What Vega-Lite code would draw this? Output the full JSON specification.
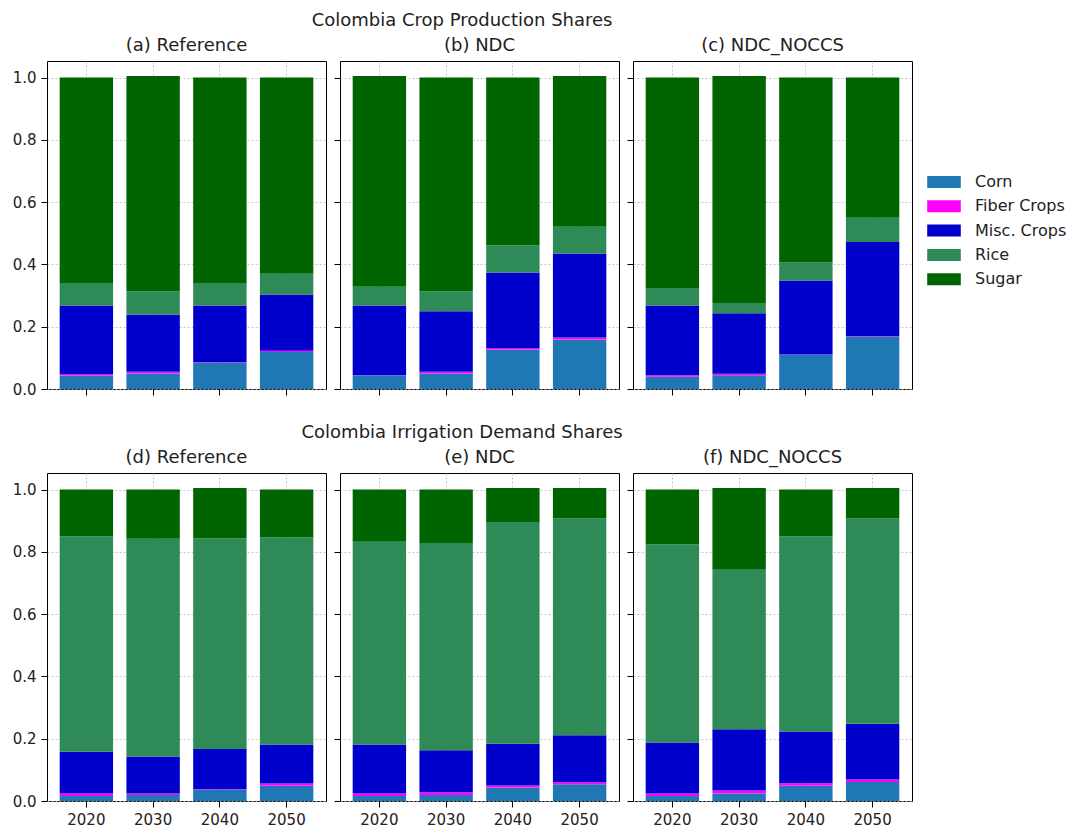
{
 "$schema": "https://vega.github.io/schema/vega-lite/v6.json",
 "padding": {"left": 11, "top": 11, "right": 5, "bottom": 5},
 "background": "white",
 "config": {
  "font": "DejaVu Sans",
  "view": {"stroke": "black", "strokeWidth": 1},
  "axis": {"domain": false, "zindex": 1, "tickColor": "black", "tickSize": 6, "tickWidth": 1, "labelFontSize": 15, "labelColor": "#222222", "labelFont": "DejaVu Sans", "gridColor": "#b8b8b8", "gridDash": [2, 2], "gridWidth": 0.8, "labelPadding": 5},
  "title": {"fontSize": 18, "fontWeight": "normal", "anchor": "middle", "color": "#222222", "font": "DejaVu Sans", "offset": 6},
  "bar": {"stroke": null}
 },
 "datasets": {
  "d": [
   {"p": "(a) Reference", "year": "2020", "crop": "Corn", "v": 0.043},
   {"p": "(a) Reference", "year": "2020", "crop": "Fiber Crops", "v": 0.005},
   {"p": "(a) Reference", "year": "2020", "crop": "Misc. Crops", "v": 0.220},
   {"p": "(a) Reference", "year": "2020", "crop": "Rice", "v": 0.072},
   {"p": "(a) Reference", "year": "2020", "crop": "Sugar", "v": 0.660},
   {"p": "(a) Reference", "year": "2030", "crop": "Corn", "v": 0.050},
   {"p": "(a) Reference", "year": "2030", "crop": "Fiber Crops", "v": 0.005},
   {"p": "(a) Reference", "year": "2030", "crop": "Misc. Crops", "v": 0.183},
   {"p": "(a) Reference", "year": "2030", "crop": "Rice", "v": 0.076},
   {"p": "(a) Reference", "year": "2030", "crop": "Sugar", "v": 0.691},
   {"p": "(a) Reference", "year": "2040", "crop": "Corn", "v": 0.084},
   {"p": "(a) Reference", "year": "2040", "crop": "Fiber Crops", "v": 0.002},
   {"p": "(a) Reference", "year": "2040", "crop": "Misc. Crops", "v": 0.182},
   {"p": "(a) Reference", "year": "2040", "crop": "Rice", "v": 0.072},
   {"p": "(a) Reference", "year": "2040", "crop": "Sugar", "v": 0.660},
   {"p": "(a) Reference", "year": "2050", "crop": "Corn", "v": 0.119},
   {"p": "(a) Reference", "year": "2050", "crop": "Fiber Crops", "v": 0.004},
   {"p": "(a) Reference", "year": "2050", "crop": "Misc. Crops", "v": 0.180},
   {"p": "(a) Reference", "year": "2050", "crop": "Rice", "v": 0.067},
   {"p": "(a) Reference", "year": "2050", "crop": "Sugar", "v": 0.630},
   {"p": "(b) NDC", "year": "2020", "crop": "Corn", "v": 0.043},
   {"p": "(b) NDC", "year": "2020", "crop": "Fiber Crops", "v": 0.001},
   {"p": "(b) NDC", "year": "2020", "crop": "Misc. Crops", "v": 0.224},
   {"p": "(b) NDC", "year": "2020", "crop": "Rice", "v": 0.060},
   {"p": "(b) NDC", "year": "2020", "crop": "Sugar", "v": 0.677},
   {"p": "(b) NDC", "year": "2030", "crop": "Corn", "v": 0.050},
   {"p": "(b) NDC", "year": "2030", "crop": "Fiber Crops", "v": 0.005},
   {"p": "(b) NDC", "year": "2030", "crop": "Misc. Crops", "v": 0.195},
   {"p": "(b) NDC", "year": "2030", "crop": "Rice", "v": 0.064},
   {"p": "(b) NDC", "year": "2030", "crop": "Sugar", "v": 0.686},
   {"p": "(b) NDC", "year": "2040", "crop": "Corn", "v": 0.127},
   {"p": "(b) NDC", "year": "2040", "crop": "Fiber Crops", "v": 0.005},
   {"p": "(b) NDC", "year": "2040", "crop": "Misc. Crops", "v": 0.242},
   {"p": "(b) NDC", "year": "2040", "crop": "Rice", "v": 0.087},
   {"p": "(b) NDC", "year": "2040", "crop": "Sugar", "v": 0.539},
   {"p": "(b) NDC", "year": "2050", "crop": "Corn", "v": 0.159},
   {"p": "(b) NDC", "year": "2050", "crop": "Fiber Crops", "v": 0.006},
   {"p": "(b) NDC", "year": "2050", "crop": "Misc. Crops", "v": 0.270},
   {"p": "(b) NDC", "year": "2050", "crop": "Rice", "v": 0.086},
   {"p": "(b) NDC", "year": "2050", "crop": "Sugar", "v": 0.484},
   {"p": "(c) NDC_NOCCS", "year": "2020", "crop": "Corn", "v": 0.039},
   {"p": "(c) NDC_NOCCS", "year": "2020", "crop": "Fiber Crops", "v": 0.005},
   {"p": "(c) NDC_NOCCS", "year": "2020", "crop": "Misc. Crops", "v": 0.224},
   {"p": "(c) NDC_NOCCS", "year": "2020", "crop": "Rice", "v": 0.056},
   {"p": "(c) NDC_NOCCS", "year": "2020", "crop": "Sugar", "v": 0.676},
   {"p": "(c) NDC_NOCCS", "year": "2030", "crop": "Corn", "v": 0.044},
   {"p": "(c) NDC_NOCCS", "year": "2030", "crop": "Fiber Crops", "v": 0.005},
   {"p": "(c) NDC_NOCCS", "year": "2030", "crop": "Misc. Crops", "v": 0.194},
   {"p": "(c) NDC_NOCCS", "year": "2030", "crop": "Rice", "v": 0.033},
   {"p": "(c) NDC_NOCCS", "year": "2030", "crop": "Sugar", "v": 0.729},
   {"p": "(c) NDC_NOCCS", "year": "2040", "crop": "Corn", "v": 0.110},
   {"p": "(c) NDC_NOCCS", "year": "2040", "crop": "Fiber Crops", "v": 0.001},
   {"p": "(c) NDC_NOCCS", "year": "2040", "crop": "Misc. Crops", "v": 0.237},
   {"p": "(c) NDC_NOCCS", "year": "2040", "crop": "Rice", "v": 0.058},
   {"p": "(c) NDC_NOCCS", "year": "2040", "crop": "Sugar", "v": 0.594},
   {"p": "(c) NDC_NOCCS", "year": "2050", "crop": "Corn", "v": 0.168},
   {"p": "(c) NDC_NOCCS", "year": "2050", "crop": "Fiber Crops", "v": 0.001},
   {"p": "(c) NDC_NOCCS", "year": "2050", "crop": "Misc. Crops", "v": 0.303},
   {"p": "(c) NDC_NOCCS", "year": "2050", "crop": "Rice", "v": 0.078},
   {"p": "(c) NDC_NOCCS", "year": "2050", "crop": "Sugar", "v": 0.450},
   {"p": "(d) Reference", "year": "2020", "crop": "Corn", "v": 0.016},
   {"p": "(d) Reference", "year": "2020", "crop": "Fiber Crops", "v": 0.008},
   {"p": "(d) Reference", "year": "2020", "crop": "Misc. Crops", "v": 0.134},
   {"p": "(d) Reference", "year": "2020", "crop": "Rice", "v": 0.692},
   {"p": "(d) Reference", "year": "2020", "crop": "Sugar", "v": 0.150},
   {"p": "(d) Reference", "year": "2030", "crop": "Corn", "v": 0.019},
   {"p": "(d) Reference", "year": "2030", "crop": "Fiber Crops", "v": 0.005},
   {"p": "(d) Reference", "year": "2030", "crop": "Misc. Crops", "v": 0.119},
   {"p": "(d) Reference", "year": "2030", "crop": "Rice", "v": 0.699},
   {"p": "(d) Reference", "year": "2030", "crop": "Sugar", "v": 0.158},
   {"p": "(d) Reference", "year": "2040", "crop": "Corn", "v": 0.036},
   {"p": "(d) Reference", "year": "2040", "crop": "Fiber Crops", "v": 0.002},
   {"p": "(d) Reference", "year": "2040", "crop": "Misc. Crops", "v": 0.129},
   {"p": "(d) Reference", "year": "2040", "crop": "Rice", "v": 0.676},
   {"p": "(d) Reference", "year": "2040", "crop": "Sugar", "v": 0.162},
   {"p": "(d) Reference", "year": "2050", "crop": "Corn", "v": 0.049},
   {"p": "(d) Reference", "year": "2050", "crop": "Fiber Crops", "v": 0.007},
   {"p": "(d) Reference", "year": "2050", "crop": "Misc. Crops", "v": 0.125},
   {"p": "(d) Reference", "year": "2050", "crop": "Rice", "v": 0.666},
   {"p": "(d) Reference", "year": "2050", "crop": "Sugar", "v": 0.153},
   {"p": "(e) NDC", "year": "2020", "crop": "Corn", "v": 0.016},
   {"p": "(e) NDC", "year": "2020", "crop": "Fiber Crops", "v": 0.008},
   {"p": "(e) NDC", "year": "2020", "crop": "Misc. Crops", "v": 0.157},
   {"p": "(e) NDC", "year": "2020", "crop": "Rice", "v": 0.651},
   {"p": "(e) NDC", "year": "2020", "crop": "Sugar", "v": 0.168},
   {"p": "(e) NDC", "year": "2030", "crop": "Corn", "v": 0.019},
   {"p": "(e) NDC", "year": "2030", "crop": "Fiber Crops", "v": 0.009},
   {"p": "(e) NDC", "year": "2030", "crop": "Misc. Crops", "v": 0.135},
   {"p": "(e) NDC", "year": "2030", "crop": "Rice", "v": 0.665},
   {"p": "(e) NDC", "year": "2030", "crop": "Sugar", "v": 0.172},
   {"p": "(e) NDC", "year": "2040", "crop": "Corn", "v": 0.043},
   {"p": "(e) NDC", "year": "2040", "crop": "Fiber Crops", "v": 0.007},
   {"p": "(e) NDC", "year": "2040", "crop": "Misc. Crops", "v": 0.134},
   {"p": "(e) NDC", "year": "2040", "crop": "Rice", "v": 0.712},
   {"p": "(e) NDC", "year": "2040", "crop": "Sugar", "v": 0.109},
   {"p": "(e) NDC", "year": "2050", "crop": "Corn", "v": 0.054},
   {"p": "(e) NDC", "year": "2050", "crop": "Fiber Crops", "v": 0.006},
   {"p": "(e) NDC", "year": "2050", "crop": "Misc. Crops", "v": 0.151},
   {"p": "(e) NDC", "year": "2050", "crop": "Rice", "v": 0.696},
   {"p": "(e) NDC", "year": "2050", "crop": "Sugar", "v": 0.098},
   {"p": "(f) NDC_NOCCS", "year": "2020", "crop": "Corn", "v": 0.016},
   {"p": "(f) NDC_NOCCS", "year": "2020", "crop": "Fiber Crops", "v": 0.008},
   {"p": "(f) NDC_NOCCS", "year": "2020", "crop": "Misc. Crops", "v": 0.164},
   {"p": "(f) NDC_NOCCS", "year": "2020", "crop": "Rice", "v": 0.636},
   {"p": "(f) NDC_NOCCS", "year": "2020", "crop": "Sugar", "v": 0.176},
   {"p": "(f) NDC_NOCCS", "year": "2030", "crop": "Corn", "v": 0.024},
   {"p": "(f) NDC_NOCCS", "year": "2030", "crop": "Fiber Crops", "v": 0.010},
   {"p": "(f) NDC_NOCCS", "year": "2030", "crop": "Misc. Crops", "v": 0.196},
   {"p": "(f) NDC_NOCCS", "year": "2030", "crop": "Rice", "v": 0.515},
   {"p": "(f) NDC_NOCCS", "year": "2030", "crop": "Sugar", "v": 0.260},
   {"p": "(f) NDC_NOCCS", "year": "2040", "crop": "Corn", "v": 0.049},
   {"p": "(f) NDC_NOCCS", "year": "2040", "crop": "Fiber Crops", "v": 0.008},
   {"p": "(f) NDC_NOCCS", "year": "2040", "crop": "Misc. Crops", "v": 0.166},
   {"p": "(f) NDC_NOCCS", "year": "2040", "crop": "Rice", "v": 0.627},
   {"p": "(f) NDC_NOCCS", "year": "2040", "crop": "Sugar", "v": 0.150},
   {"p": "(f) NDC_NOCCS", "year": "2050", "crop": "Corn", "v": 0.061},
   {"p": "(f) NDC_NOCCS", "year": "2050", "crop": "Fiber Crops", "v": 0.008},
   {"p": "(f) NDC_NOCCS", "year": "2050", "crop": "Misc. Crops", "v": 0.179},
   {"p": "(f) NDC_NOCCS", "year": "2050", "crop": "Rice", "v": 0.659},
   {"p": "(f) NDC_NOCCS", "year": "2050", "crop": "Sugar", "v": 0.098}
  ]
 },
 "spacing": 25,
 "vconcat": [
  {
   "title": {"text": "Colombia Crop Production Shares", "offset": 7},
   "spacing": 6,
   "hconcat": [
    {
     "data": {"name": "d"}, "transform": [{"filter": "datum.p === '(a) Reference'"}],
     "title": "(a) Reference", "width": 279, "height": 328, "mark": "bar",
     "encoding": {
      "x": {"field": "year", "type": "ordinal", "scale": {"paddingInner": 0.2, "paddingOuter": 0.19}, "axis": {"labels": false, "title": null, "grid": true, "bandPosition": 0.5}},
      "y": {"field": "v", "type": "quantitative", "stack": "zero", "scale": {"domain": [0, 1.053], "nice": false}, "axis": {"values": [0, 0.2, 0.4, 0.6, 0.8, 1.0], "format": ".1f", "title": null, "grid": true}},
      "order": {"field": "crop", "type": "ordinal", "sort": "ascending"},
      "color": {"field": "crop", "type": "nominal", "scale": {"domain": ["Corn", "Fiber Crops", "Misc. Crops", "Rice", "Sugar"], "range": ["#1f77b4", "#ff00ff", "#0000cd", "#2e8b57", "#006400"]}, "legend": {"title": null, "orient": "none", "legendX": 885, "legendY": 109, "symbolType": "M-1.4,-0.5L1.4,-0.5L1.4,0.5L-1.4,0.5Z", "symbolSize": 576, "symbolStrokeWidth": 0, "symbolOpacity": 1, "labelFontSize": 16, "labelColor": "#222222", "labelOffset": 19, "rowPadding": 4.3}}
     }
    },
    {
     "data": {"name": "d"}, "transform": [{"filter": "datum.p === '(b) NDC'"}],
     "title": "(b) NDC", "width": 279, "height": 328, "mark": "bar",
     "encoding": {
      "x": {"field": "year", "type": "ordinal", "scale": {"paddingInner": 0.2, "paddingOuter": 0.19}, "axis": {"labels": false, "title": null, "grid": true, "bandPosition": 0.5}},
      "y": {"field": "v", "type": "quantitative", "stack": "zero", "scale": {"domain": [0, 1.053], "nice": false}, "axis": {"values": [0, 0.2, 0.4, 0.6, 0.8, 1.0], "labels": false, "title": null, "grid": true}},
      "order": {"field": "crop", "type": "ordinal", "sort": "ascending"},
      "color": {"field": "crop", "type": "nominal", "scale": {"domain": ["Corn", "Fiber Crops", "Misc. Crops", "Rice", "Sugar"], "range": ["#1f77b4", "#ff00ff", "#0000cd", "#2e8b57", "#006400"]}}
     }
    },
    {
     "data": {"name": "d"}, "transform": [{"filter": "datum.p === '(c) NDC_NOCCS'"}],
     "title": "(c) NDC_NOCCS", "width": 279, "height": 328, "mark": "bar",
     "encoding": {
      "x": {"field": "year", "type": "ordinal", "scale": {"paddingInner": 0.2, "paddingOuter": 0.19}, "axis": {"labels": false, "title": null, "grid": true, "bandPosition": 0.5}},
      "y": {"field": "v", "type": "quantitative", "stack": "zero", "scale": {"domain": [0, 1.053], "nice": false}, "axis": {"values": [0, 0.2, 0.4, 0.6, 0.8, 1.0], "labels": false, "title": null, "grid": true}},
      "order": {"field": "crop", "type": "ordinal", "sort": "ascending"},
      "color": {"field": "crop", "type": "nominal", "scale": {"domain": ["Corn", "Fiber Crops", "Misc. Crops", "Rice", "Sugar"], "range": ["#1f77b4", "#ff00ff", "#0000cd", "#2e8b57", "#006400"]}}
     }
    }
   ]
  },
  {
   "title": {"text": "Colombia Irrigation Demand Shares", "offset": 7},
   "spacing": 6,
   "hconcat": [
    {
     "data": {"name": "d"}, "transform": [{"filter": "datum.p === '(d) Reference'"}],
     "title": "(d) Reference", "width": 279, "height": 328, "mark": "bar",
     "encoding": {
      "x": {"field": "year", "type": "ordinal", "scale": {"paddingInner": 0.2, "paddingOuter": 0.19}, "axis": {"labelAngle": 0, "title": null, "grid": true, "bandPosition": 0.5}},
      "y": {"field": "v", "type": "quantitative", "stack": "zero", "scale": {"domain": [0, 1.053], "nice": false}, "axis": {"values": [0, 0.2, 0.4, 0.6, 0.8, 1.0], "format": ".1f", "title": null, "grid": true}},
      "order": {"field": "crop", "type": "ordinal", "sort": "ascending"},
      "color": {"field": "crop", "type": "nominal", "scale": {"domain": ["Corn", "Fiber Crops", "Misc. Crops", "Rice", "Sugar"], "range": ["#1f77b4", "#ff00ff", "#0000cd", "#2e8b57", "#006400"]}}
     }
    },
    {
     "data": {"name": "d"}, "transform": [{"filter": "datum.p === '(e) NDC'"}],
     "title": "(e) NDC", "width": 279, "height": 328, "mark": "bar",
     "encoding": {
      "x": {"field": "year", "type": "ordinal", "scale": {"paddingInner": 0.2, "paddingOuter": 0.19}, "axis": {"labelAngle": 0, "title": null, "grid": true, "bandPosition": 0.5}},
      "y": {"field": "v", "type": "quantitative", "stack": "zero", "scale": {"domain": [0, 1.053], "nice": false}, "axis": {"values": [0, 0.2, 0.4, 0.6, 0.8, 1.0], "labels": false, "title": null, "grid": true}},
      "order": {"field": "crop", "type": "ordinal", "sort": "ascending"},
      "color": {"field": "crop", "type": "nominal", "scale": {"domain": ["Corn", "Fiber Crops", "Misc. Crops", "Rice", "Sugar"], "range": ["#1f77b4", "#ff00ff", "#0000cd", "#2e8b57", "#006400"]}}
     }
    },
    {
     "data": {"name": "d"}, "transform": [{"filter": "datum.p === '(f) NDC_NOCCS'"}],
     "title": "(f) NDC_NOCCS", "width": 279, "height": 328, "mark": "bar",
     "encoding": {
      "x": {"field": "year", "type": "ordinal", "scale": {"paddingInner": 0.2, "paddingOuter": 0.19}, "axis": {"labelAngle": 0, "title": null, "grid": true, "bandPosition": 0.5}},
      "y": {"field": "v", "type": "quantitative", "stack": "zero", "scale": {"domain": [0, 1.053], "nice": false}, "axis": {"values": [0, 0.2, 0.4, 0.6, 0.8, 1.0], "labels": false, "title": null, "grid": true}},
      "order": {"field": "crop", "type": "ordinal", "sort": "ascending"},
      "color": {"field": "crop", "type": "nominal", "scale": {"domain": ["Corn", "Fiber Crops", "Misc. Crops", "Rice", "Sugar"], "range": ["#1f77b4", "#ff00ff", "#0000cd", "#2e8b57", "#006400"]}}
     }
    }
   ]
  }
 ]
}
